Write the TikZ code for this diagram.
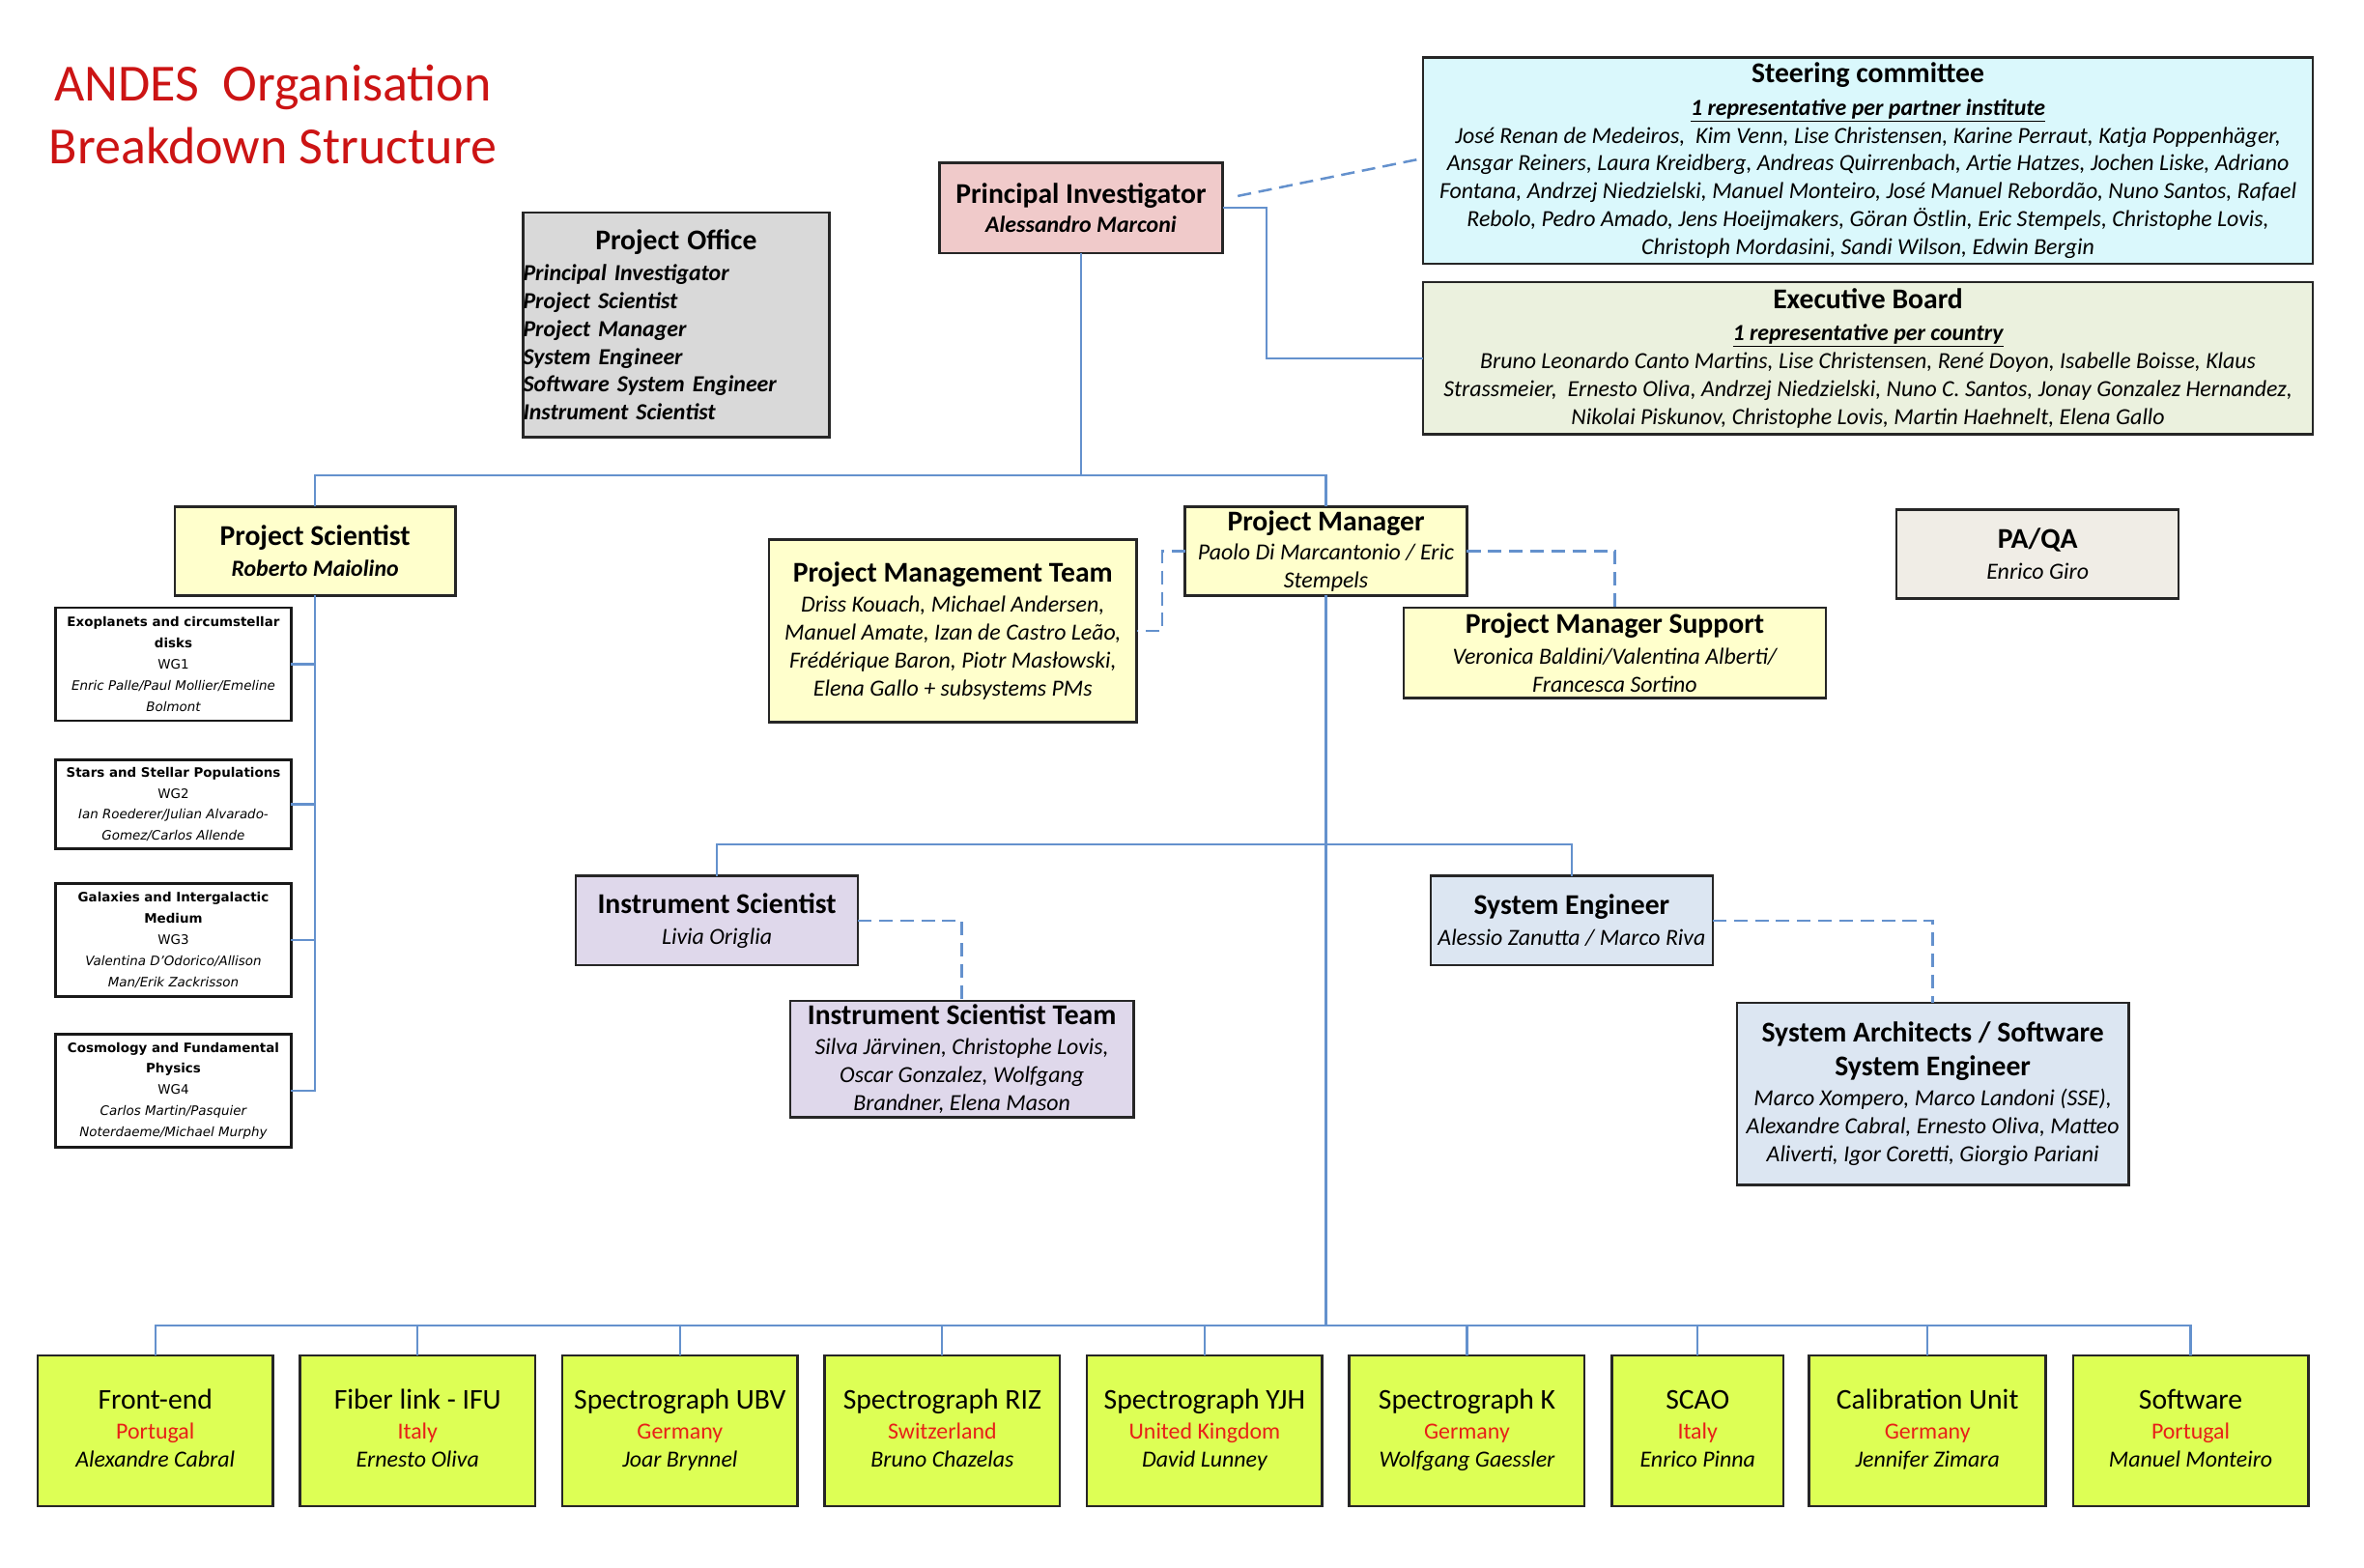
\documentclass[tikz,border=0pt]{standalone}
\usepackage{fontspec}
\setmainfont{Carlito}
\newfontfamily\wgfont{DejaVu Sans}
\usetikzlibrary{calc}
\definecolor{pipink}{RGB}{240,202,202}
\definecolor{offgray}{RGB}{217,217,217}
\definecolor{steercyan}{RGB}{218,248,252}
\definecolor{execgreen}{RGB}{235,241,222}
\definecolor{pmyellow}{RGB}{255,255,204}
\definecolor{paqagray}{RGB}{240,237,230}
\definecolor{lav}{RGB}{223,216,235}
\definecolor{lblue}{RGB}{220,230,242}
\definecolor{lime}{RGB}{221,255,85}
\definecolor{titlered}{RGB}{204,20,20}
\definecolor{ctryred}{RGB}{232,32,24}
\definecolor{lineblue}{RGB}{100,145,205}
\newcommand{\bt}[1]{{\bfseries\fontsize{19}{22}\selectfont #1}}
\newcommand{\ctry}[1]{{\color{ctryred}#1}}
\begin{document}
\begin{tikzpicture}[x=1pt,y=-1pt,
  box/.style={draw=black!85, line width=1.6pt, inner sep=0pt, outer sep=0pt, align=center,
    font=\fontsize{15.3}{18.5}\selectfont},
  wgbox/.style={draw=black!90, line width=1.8pt, fill=white, inner sep=0pt, outer sep=0pt, align=center,
    minimum width=156pt, font=\wgfont\fontsize{8.6}{14}\selectfont},
  subbox/.style={box, fill=lime, minimum height=100pt},
  conn/.style={draw=lineblue, line width=1.4pt},
  dconn/.style={draw=lineblue, line width=1.6pt, dash pattern=on 9pt off 5pt}]
\useasboundingbox (0,0) rectangle (1568,1039.4);

\node[align=center, text=titlered, font=\fontsize{34.6}{42}\selectfont, inner sep=0pt] (title) at (181,76)
  {ANDES~~Organisation\\Breakdown Structure};

\node[box, fill=pipink, minimum width=188pt, minimum height=60pt] (pi) at (717,138)
  {\bt{Principal Investigator}\\[1pt]{\bfseries\itshape Alessandro Marconi}};

\node[box, fill=offgray, minimum width=203pt, minimum height=149pt, text width=203pt, align=left] (office) at (448.5,215.5)
  {\makebox[203pt][c]{\bt{Project Office}}\\[2pt]
   {\bfseries\itshape Principal Investigator}\\
   {\bfseries\itshape Project Scientist}\\
   {\bfseries\itshape Project Manager}\\
   {\bfseries\itshape System Engineer}\\
   {\bfseries\itshape Software System Engineer}\\
   {\bfseries\itshape Instrument Scientist}};

\node[box, fill=steercyan, minimum width=590pt, minimum height=137pt] (steer) at (1239,106.5)
  {\bt{Steering committee}\\[3pt]
   {\bfseries\itshape\underline{1 representative per partner institute}}\\
   {\itshape José Renan de Medeiros,~~Kim Venn, Lise Christensen, Karine Perraut, Katja Poppenhäger,}\\
   {\itshape Ansgar Reiners, Laura Kreidberg, Andreas Quirrenbach, Artie Hatzes, Jochen Liske, Adriano}\\
   {\itshape Fontana, Andrzej Niedzielski, Manuel Monteiro, José Manuel Rebordão, Nuno Santos, Rafael}\\
   {\itshape Rebolo, Pedro Amado, Jens Hoeijmakers, Göran Östlin, Eric Stempels, Christophe Lovis,}\\
   {\itshape Christoph Mordasini, Sandi Wilson, Edwin Bergin}};

\node[box, fill=execgreen, minimum width=590pt, minimum height=101pt] (exec) at (1239,237.5)
  {\bt{Executive Board}\\[3pt]
   {\bfseries\itshape\underline{1 representative per country}}\\
   {\itshape Bruno Leonardo Canto Martins, Lise Christensen, René Doyon, Isabelle Boisse, Klaus}\\
   {\itshape Strassmeier,~~Ernesto Oliva, Andrzej Niedzielski, Nuno C. Santos, Jonay Gonzalez Hernandez,}\\
   {\itshape Nikolai Piskunov, Christophe Lovis, Martin Haehnelt, Elena Gallo}};

\node[box, fill=pmyellow, minimum width=186pt, minimum height=59pt] (ps) at (209,365.5)
  {\bt{Project Scientist}\\[2pt]{\bfseries\itshape Roberto Maiolino}};

\node[wgbox, minimum height=75pt] (wg1) at (115,440.5)
  {{\bfseries Exoplanets and circumstellar}\\{\bfseries disks}\\WG1\\{\itshape Enric Palle/Paul Mollier/Emeline}\\{\itshape Bolmont}};
\node[wgbox, minimum height=59pt] (wg2) at (115,533.5)
  {{\bfseries Stars and Stellar Populations}\\WG2\\{\itshape Ian Roederer/Julian Alvarado-}\\{\itshape Gomez/Carlos Allende}};
\node[wgbox, minimum height=75pt] (wg3) at (115,623.5)
  {{\bfseries Galaxies and Intergalactic}\\{\bfseries Medium}\\WG3\\{\itshape Valentina D’Odorico/Allison}\\{\itshape Man/Erik Zackrisson}};
\node[wgbox, minimum height=75pt] (wg4) at (115,723.5)
  {{\bfseries Cosmology and Fundamental}\\{\bfseries Physics}\\WG4\\{\itshape Carlos Martin/Pasquier}\\{\itshape Noterdaeme/Michael Murphy}};

\node[box, fill=pmyellow, minimum width=244pt, minimum height=121pt] (pmt) at (632,418.5)
  {\bt{Project Management Team}\\[1.5pt]
   {\itshape Driss Kouach, Michael Andersen,}\\
   {\itshape Manuel Amate, Izan de Castro Leão,}\\
   {\itshape Frédérique Baron, Piotr Masłowski,}\\
   {\itshape Elena Gallo + subsystems PMs}};

\node[box, fill=pmyellow, minimum width=187pt, minimum height=59pt] (pm) at (879.5,365.5)
  {\bt{Project Manager}\\[1pt]{\itshape Paolo Di Marcantonio / Eric}\\{\itshape Stempels}};

\node[box, fill=pmyellow, minimum width=280pt, minimum height=60pt] (pms) at (1071,433)
  {\bt{Project Manager Support}\\[2pt]{\itshape Veronica Baldini/Valentina Alberti/}\\{\itshape Francesca Sortino}};

\node[box, fill=paqagray, minimum width=187pt, minimum height=59pt] (paqa) at (1351.5,367.5)
  {\bt{PA/QA}\\[2pt]{\itshape Enrico Giro}};

\node[box, fill=lav, minimum width=187pt, minimum height=59pt] (is) at (475.5,610.5)
  {\bt{Instrument Scientist}\\[2pt]{\itshape Livia Origlia}};

\node[box, fill=lav, minimum width=228pt, minimum height=77pt] (ist) at (638,702.5)
  {\bt{Instrument Scientist Team}\\[1.5pt]
   {\itshape Silva Järvinen, Christophe Lovis,}\\
   {\itshape Oscar Gonzalez, Wolfgang}\\
   {\itshape Brandner, Elena Mason}};

\node[box, fill=lblue, minimum width=187pt, minimum height=59pt] (se) at (1042.5,610.5)
  {\bt{System Engineer}\\[2pt]{\itshape Alessio Zanutta / Marco Riva}};

\node[box, fill=lblue, minimum width=260pt, minimum height=121pt] (sa) at (1282,725.5)
  {\bt{System Architects / Software}\\[4pt]
   \bt{System Engineer}\\[1.5pt]
   {\itshape Marco Xompero, Marco Landoni (SSE),}\\
   {\itshape Alexandre Cabral, Ernesto Oliva, Matteo}\\
   {\itshape Aliverti, Igor Coretti, Giorgio Pariani}};

% bottom row
\newcommand{\sub}[1]{{\fontsize{19}{22}\selectfont\strut #1}}
\newcommand{\who}[1]{{\itshape #1\strut}}
\node[subbox, minimum width=156pt] (b1) at (103,949) {\sub{Front-end}\\[1.5pt]\ctry{Portugal}\\\who{Alexandre Cabral}};
\node[subbox, minimum width=156pt] (b2) at (277,949) {\sub{Fiber link - IFU}\\[1.5pt]\ctry{Italy}\\\who{Ernesto Oliva}};
\node[subbox, minimum width=156pt] (b3) at (451,949) {\sub{Spectrograph UBV}\\[1.5pt]\ctry{Germany}\\\who{Joar Brynnel}};
\node[subbox, minimum width=156pt] (b4) at (625,949) {\sub{Spectrograph RIZ}\\[1.5pt]\ctry{Switzerland}\\\who{Bruno Chazelas}};
\node[subbox, minimum width=156pt] (b5) at (799,949) {\sub{Spectrograph YJH}\\[1.5pt]\ctry{United Kingdom}\\\who{David Lunney}};
\node[subbox, minimum width=156pt] (b6) at (973,949) {\sub{Spectrograph K}\\[1.5pt]\ctry{Germany}\\\who{Wolfgang Gaessler}};
\node[subbox, minimum width=114pt] (b7) at (1126,949) {\sub{SCAO}\\[1.5pt]\ctry{Italy}\\\who{Enrico Pinna}};
\node[subbox, minimum width=157pt] (b8) at (1278.5,949) {\sub{Calibration Unit}\\[1.5pt]\ctry{Germany}\\\who{Jennifer Zimara}};
\node[subbox, minimum width=156pt] (b9) at (1453,949) {\sub{Software}\\[1.5pt]\ctry{Portugal}\\\who{Manuel Monteiro}};

% connectors
\coordinate (bus1) at (0,315);
\coordinate (bus2) at (0,560);
\coordinate (bus3) at (0,879);
\draw[conn] (pi.south) -- (pi.south |- bus1);
\draw[conn] (ps.north) -- (ps.north |- bus1) -- (pm.north |- bus1) -- (pm.north);
\draw[conn] (ps.south) -- (ps.south |- wg4.east) -- (wg4.east);
\draw[conn] (wg1.east) -- (wg1.east -| ps.south);
\draw[conn] (wg2.east) -- (wg2.east -| ps.south);
\draw[conn] (wg3.east) -- (wg3.east -| ps.south);
\draw[conn] (pi.east) -- ++(29,0) |- (exec.west);
\draw[dconn] ($(pi.east)+(10,-8)$) -- ($(steer.west)+(0,-1.5)$);
\draw[dconn] (pm.west) -- ++(-15,0) |- (pmt.east);
\draw[dconn] (pm.east) -| (pms.north);
\draw[conn] (pm.south) -- (pm.south |- bus3);
\draw[conn] (is.north) -- (is.north |- bus2) -- (se.north |- bus2) -- (se.north);
\draw[dconn] (is.east) -| (ist.north);
\draw[dconn] (se.east) -| (sa.north);
\draw[conn] (b1.north) -- (b1.north |- bus3) -- (b9.north |- bus3) -- (b9.north);
\foreach \b in {b2,b3,b4,b5,b6,b7,b8}{\draw[conn] (\b.north) -- (\b.north |- bus3);}
\end{tikzpicture}
\end{document}
